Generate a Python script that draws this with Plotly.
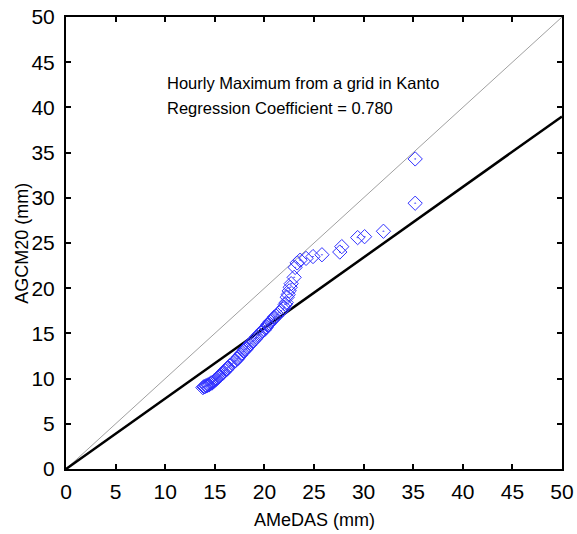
import plotly.graph_objects as go

# Data
amedas = [13.8, 13.9, 14.0, 14.1, 14.2, 14.3, 14.4, 14.5, 14.6, 14.7, 14.8, 14.9,
          15.0, 15.1, 15.2, 15.3, 15.4, 15.5, 15.6, 15.7, 15.8, 15.9, 16.0, 16.2,
          16.3, 16.5, 16.6, 16.8, 17.0, 17.1, 17.3, 17.4, 17.6, 17.7, 17.9, 18.0,
          18.2, 18.3, 18.5, 18.6, 18.8, 18.9, 19.1, 19.2, 19.4, 19.5, 19.7, 19.8,
          20.0, 20.1, 20.2, 20.3, 20.4, 20.5, 20.6, 20.7, 20.9, 21.0, 21.2, 21.3,
          21.5, 21.7, 21.9, 22.0, 22.1, 22.2, 22.3, 22.4, 22.5, 22.6, 22.7, 23.0,
          23.1, 23.3, 23.6, 24.2, 24.9, 25.8, 27.6, 27.8, 29.4, 30.1, 32.0, 35.2,
          35.2]
agcm20 = [9.0, 9.1, 9.1, 9.2, 9.2, 9.3, 9.3, 9.4, 9.5, 9.5, 9.6, 9.7,
          9.8, 9.9, 10.0, 10.1, 10.2, 10.3, 10.4, 10.5, 10.6, 10.7, 10.9, 11.0,
          11.2, 11.4, 11.5, 11.7, 11.9, 12.0, 12.2, 12.4, 12.6, 12.8, 13.0, 13.2,
          13.3, 13.5, 13.7, 13.9, 14.1, 14.2, 14.4, 14.6, 14.8, 14.9, 15.1, 15.3,
          15.4, 15.6, 15.7, 15.9, 16.0, 16.1, 16.3, 16.4, 16.6, 16.8, 16.9, 17.1,
          17.3, 17.5, 17.7, 17.9, 18.2, 18.4, 19.0, 19.3, 19.7, 20.1, 20.5, 21.2,
          22.3, 22.8, 23.1, 23.3, 23.5, 23.7, 24.0, 24.6, 25.6, 25.7, 26.3, 29.4,
          34.3]
line_x = [0, 50]
one_to_one = [0, 50]
coef = 0.780
reg_line = [coef * v for v in line_x]
ticks = [0, 5, 10, 15, 20, 25, 30, 35, 40, 45, 50]

FONT = "Liberation Sans, Arial"
BLUE = "#3030ff"

fig = go.Figure()
fig.add_trace(go.Scatter(x=line_x, y=one_to_one, mode="lines",
                         line=dict(color="#a0a0a0", width=1), showlegend=False))
fig.add_trace(go.Scatter(x=line_x, y=reg_line, mode="lines",
                         line=dict(color="black", width=2.5), showlegend=False))
fig.add_trace(go.Scatter(x=amedas, y=agcm20, mode="markers",
                         marker=dict(symbol="diamond-open-dot", size=11,
                                     color=BLUE, line=dict(width=1, color=BLUE)),
                         showlegend=False))

axis_common = dict(range=[0, 50], tickvals=ticks, ticks="inside", ticklen=5,
                   tickwidth=2, tickcolor="black", showline=True, linecolor="black",
                   linewidth=2, mirror="ticks", showgrid=False, zeroline=False,
                   automargin=False, ticklabeloverflow="allow",
                   tickfont=dict(family=FONT, size=21, color="black"))

fig.update_layout(
    width=577, height=534,
    margin=dict(l=66, r=15, t=17, b=65),
    paper_bgcolor="white", plot_bgcolor="white",
    xaxis=dict(**axis_common, ticklabelstandoff=3),
    yaxis=dict(**axis_common, ticklabelstandoff=5),
    annotations=[
        dict(x=10.0, y=42.7, xref="x", yref="y", xanchor="left", yanchor="middle",
             text="Hourly Maximum from a grid in Kanto", showarrow=False,
             font=dict(family=FONT, size=16.5, color="black")),
        dict(x=10.0, y=39.9, xref="x", yref="y", xanchor="left", yanchor="middle",
             text="Regression Coefficient = 0.780", showarrow=False,
             font=dict(family=FONT, size=16.5, color="black")),
        dict(x=0.5, y=-0.113, xref="paper", yref="paper", xanchor="center",
             yanchor="middle", text="AMeDAS (mm)", showarrow=False,
             font=dict(family=FONT, size=18, color="black")),
        dict(x=-0.089, y=0.5, xref="paper", yref="paper", xanchor="center",
             yanchor="middle", text="AGCM20 (mm)", showarrow=False, textangle=-90,
             font=dict(family=FONT, size=18, color="black")),
    ],
)

fig.write_html("out.html",
               config={"displayModeBar": False},
               post_script="document.body.style.margin='0';document.body.style.overflow='hidden';")
